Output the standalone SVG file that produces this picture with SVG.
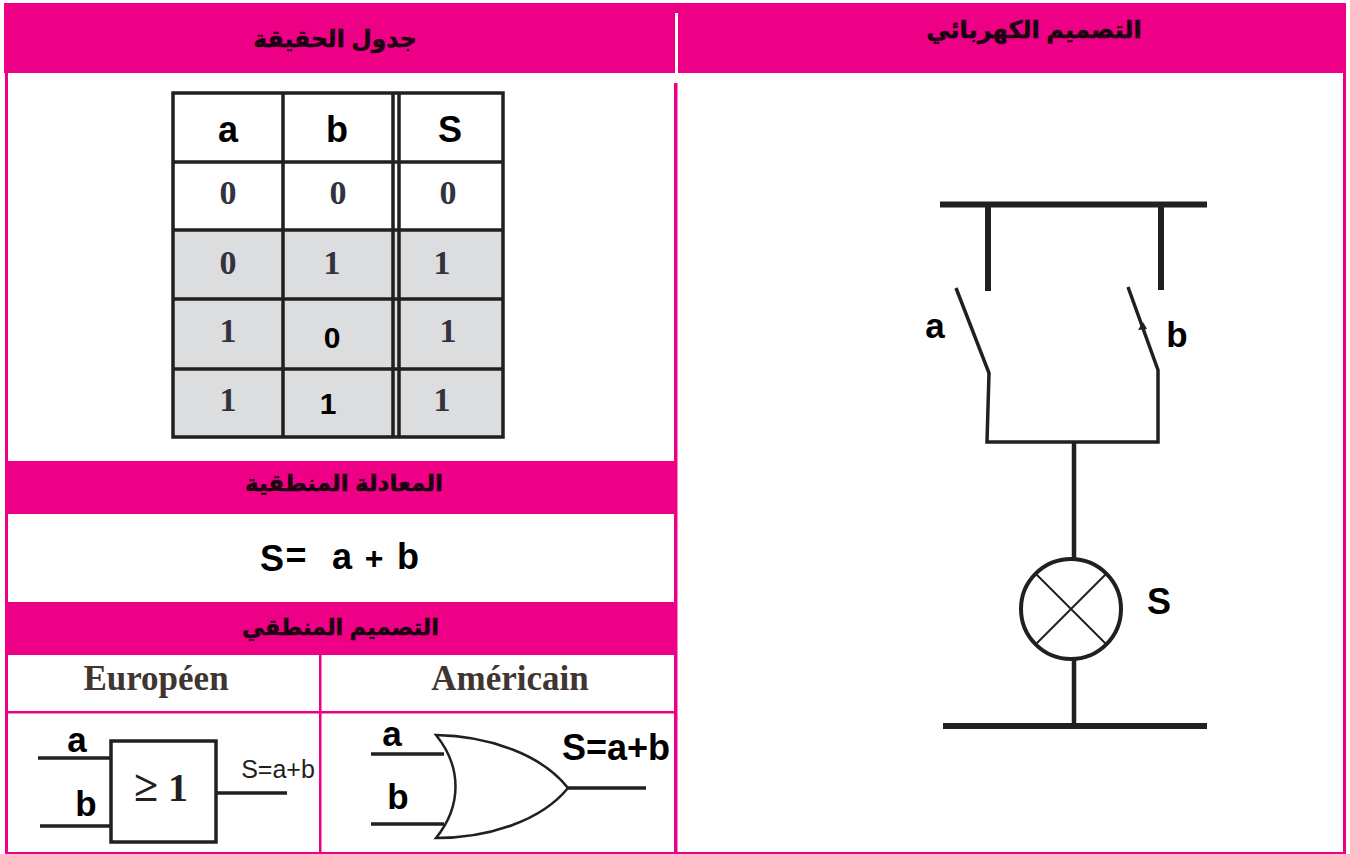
<svg xmlns="http://www.w3.org/2000/svg" width="1350" height="854" viewBox="0 0 1350 854">
<style>
.p{fill:#ee0086}
.w{fill:#fff}
.ar{font-family:"Liberation Sans","DejaVu Sans",sans-serif;font-weight:bold;fill:#1a0010;text-anchor:middle;direction:rtl;stroke:#1a0010;stroke-width:.5}
.s{font-family:"Liberation Sans",Arial,sans-serif;font-weight:bold;fill:#000;text-anchor:middle}
.t{font-family:"Liberation Serif",serif;font-weight:bold;fill:#33333f;text-anchor:middle}
.l{fill:none;stroke:#231f20;stroke-linecap:butt}
.g{fill:#dcddde}
</style>
<rect width="1350" height="854" class="w"/>
<g id="frame">
<rect class="p" x="4" y="3" width="1342" height="70"/>
<rect class="w" x="675" y="13" width="3" height="60"/>
<rect class="p" x="5" y="73" width="3" height="781"/>
<rect class="p" x="674" y="83" width="3.500" height="771"/>
<rect class="p" x="1343" y="73" width="3" height="781"/>
<rect class="p" x="5" y="461" width="670" height="53"/>
<rect class="p" x="5" y="602" width="670" height="53"/>
<rect class="p" x="319" y="655" width="2.500" height="199"/>
<rect class="p" x="5" y="711" width="670" height="2.500"/>
<rect class="p" x="5" y="852" width="670" height="2"/>
<rect class="p" x="677" y="852" width="668" height="2"/>
</g>
<g id="titles">
<text class="ar" x="335" y="47" font-size="23.500">جدول الحقيقة</text>
<text class="ar" x="1034" y="38" font-size="24">التصميم الكهربائي</text>
<text class="ar" x="344" y="491" font-size="23">المعادلة المنطقية</text>
<text class="ar" x="340.500" y="635" font-size="22.500">التصميم المنطقي</text>
</g>
<g id="truth-table">
<rect class="g" x="173" y="231" width="330" height="206"/>
<path class="l" stroke-width="3.500" d="M173 93H503V437H173ZM173 162H503M173 230H503M173 299H503M173 369H503M283 93V437M393 93V437M399 93V437"/>
<text class="s" x="228" y="142" font-size="36">a</text>
<text class="s" x="337" y="142" font-size="36">b</text>
<text class="s" x="450" y="142" font-size="36">S</text>
<g font-size="34">
<text class="t" x="228" y="204">0</text><text class="t" x="338" y="204">0</text><text class="t" x="448" y="204">0</text>
<text class="t" x="228" y="274">0</text><text class="t" x="332" y="274">1</text><text class="t" x="442" y="274">1</text>
<text class="t" x="228" y="342">1</text><text class="t" x="448" y="342">1</text>
<text class="t" x="228" y="411">1</text><text class="t" x="442" y="411">1</text>
</g>
<text class="s" x="332" y="348" font-size="30">0</text>
<text class="s" x="328" y="414" font-size="30">1</text>
</g>
<g id="equation">
<text class="s" x="272" y="571" font-size="36">S</text>
<text class="s" x="296" y="568" font-size="36">=</text>
<text class="s" x="342" y="569" font-size="36">a</text>
<text class="s" x="374" y="569" font-size="32">+</text>
<text class="s" x="408" y="569" font-size="36">b</text>
</g>
<g id="logic-headers">
<text class="t" x="156" y="690" font-size="35" style="fill:#403530">Européen</text>
<text class="t" x="510" y="690" font-size="35" style="fill:#403530">Américain</text>
</g>
<g id="european-gate">
<rect x="111" y="741" width="105" height="101" fill="#fff" stroke="#231f20" stroke-width="3.500"/>
<text x="146" y="801" font-family="Liberation Serif,serif" font-size="44" font-weight="bold" fill="#231f20" text-anchor="middle">≥</text>
<text x="178" y="801" font-family="Liberation Serif,serif" font-size="40" font-weight="bold" fill="#231f20" text-anchor="middle">1</text>
<text class="s" x="77" y="752" font-size="35">a</text>
<text class="s" x="86" y="816" font-size="35">b</text>
<text x="278" y="778" font-family="Liberation Sans,sans-serif" font-size="25" fill="#231f20" text-anchor="middle">S=a+b</text>
</g>
<g id="american-gate">
<path d="M436 735C490 736 542 755 568 788C542 820 490 838 436 838C462 806 462 767 436 735Z" fill="#fff" stroke="#231f20" stroke-width="2.500"/>
<text class="s" x="392" y="746" font-size="35">a</text>
<text class="s" x="398" y="809" font-size="35">b</text>
<text class="s" x="616" y="760" font-size="36">S=a+b</text>
</g>
<g id="connectors">
<path class="l" stroke-width="3.500" d="M38 758H111M40 826H111M216 793H287M371 754H444M371 824H444M568 788H646"/>
<path class="l" stroke-width="6" d="M940 204.500H1207M988 204V291M1161 204V290M943 726H1207"/>
<path class="l" stroke-width="3.500" d="M956 288L989 373L987 442H1158V370L1128 287"/>
<path class="l" stroke-width="4.500" d="M1074 443V559M1074 660V726"/>
<path d="M1138 330l5-8 4 7z" fill="#231f20"/>
</g>
<g id="switch-labels">
<text class="s" x="935" y="338" font-size="35">a</text>
<text class="s" x="1177" y="347" font-size="35">b</text>
</g>
<g id="lamp">
<circle cx="1071" cy="609" r="50" fill="#fff" stroke="#231f20" stroke-width="4"/>
<path class="l" stroke-width="2" d="M1036 574L1106 644M1106 574L1036 644"/>
<text class="s" x="1159" y="614" font-size="36">S</text>
</g>
</svg>
